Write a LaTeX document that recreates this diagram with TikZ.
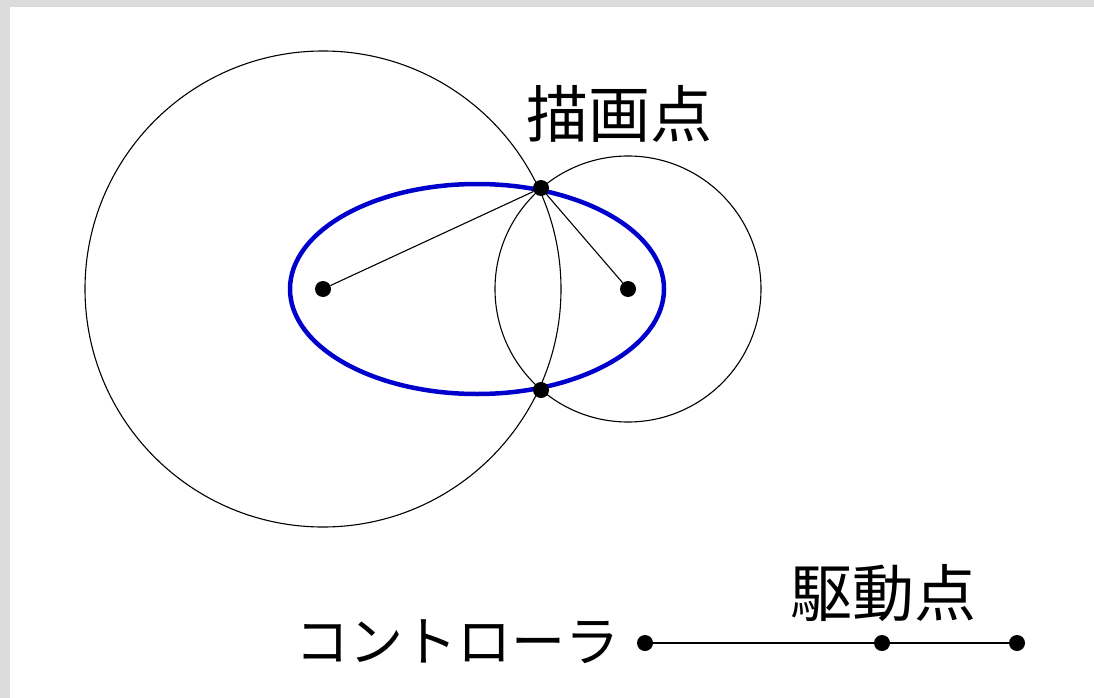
\documentclass[tikz,border=0pt]{standalone}
\usepackage{fontspec}
\usepackage{xcolor}
\usepackage{tikz}
\newfontfamily\jpfont{Noto Sans CJK JP}
\definecolor{edgegray}{RGB}{220,220,220}
\definecolor{penblue}{RGB}{0,0,205}
\tikzset{
  dot/.style={circle,fill=black,inner sep=0pt,minimum size=16pt},
  thinline/.style={black,line width=1.1pt},
  bigtext/.style={inner sep=0pt,font=\jpfont\fontsize{62}{62}\selectfont},
  kanatext/.style={inner sep=0pt,font=\jpfont\fontsize{54}{54}\selectfont}
}
\begin{document}
\begin{tikzpicture}[x=1pt,y=-1pt]
            % frame
            \fill [edgegray] (0,0) rectangle (1094,698);
            \fill [white] (10,7) rectangle (1094,698);
            \useasboundingbox (0,0) rectangle (1094,698);

            % centres
            \coordinate (c1) at (323,289);
            \coordinate (c2) at (628,289);
            \coordinate (mid) at (477,289);

            % circles
            \draw [thinline] (c1) circle [radius=238pt];
            \draw [thinline] (c2) circle [radius=133pt];
            % ellipse
            \draw [penblue, line width=4.5pt] (mid) ellipse [x radius=187pt, y radius=105pt];

            % foci and points
            \node [dot] (f1) at (c1) {};
            \node [dot] (f2) at (c2) {};
            \node [dot] (p) at (541,188) {};
            \node [dot] (q) at (541,390) {};

            % strings
            \draw [thinline] (f1) -- (p);
            \draw [thinline] (p) -- (f2);

            % label
            \node [bigtext] (drawlabel) at (619,114) {描画点};

            % controller
            \node [dot] (ctrl) at (645,643) {};
            \node [dot] (drive) at (882,643) {};
            \node [dot] (tip) at (1017,643) {};
            \draw [thinline] (ctrl) -- (drive);
            \draw [thinline] (drive) -- (tip);
            % label
            \node [kanatext] (ctrllabel) at (457,642) {コントローラ};
            \node [bigtext] (drivelabel) at (883,593) {駆動点};
\end{tikzpicture}
\end{document}
